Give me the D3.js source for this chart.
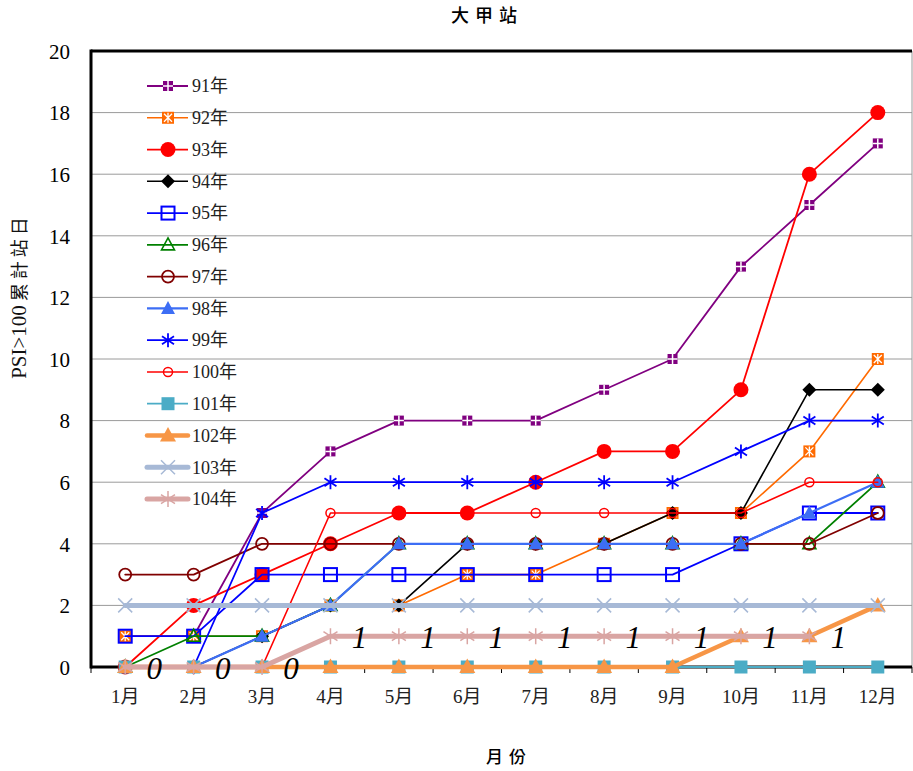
<!DOCTYPE html>
<html><head><meta charset="utf-8">
<script src="https://cdn.jsdelivr.net/npm/d3@7"></script>
<style>
body{margin:0;background:#fff;}
svg text{font-family:"Liberation Serif","Times New Roman","Noto Sans CJK TC",serif;}
</style>
</head><body>
<svg id="c" width="913" height="771"></svg>
<script>
const months = ["1月","2月","3月","4月","5月","6月","7月","8月","9月","10月","11月","12月"];
const yTicks = [0,2,4,6,8,10,12,14,16,18,20];
const seriesNames = ["91年","92年","93年","94年","95年","96年","97年","98年","99年","100年","101年","102年","103年","104年"];
const v91  = [1,1,5,7,8,8,8,9,10,13,15,17];
const v92  = [1,1,1,2,2,3,3,4,5,5,7,10];
const v93  = [0,2,3,4,5,5,6,7,7,9,16,18];
const v94  = [0,0,1,2,2,4,4,4,5,5,9,9];
const v95  = [1,1,3,3,3,3,3,3,3,4,5,5];
const v96  = [0,1,1,2,4,4,4,4,4,4,4,6];
const v97  = [3,3,4,4,4,4,4,4,4,4,4,5];
const v98  = [0,0,1,2,4,4,4,4,4,4,5,6];
const v99  = [0,0,5,6,6,6,6,6,6,7,8,8];
const v100 = [0,0,0,5,5,5,5,5,5,5,6,6];
const v101 = [0,0,0,0,0,0,0,0,0,0,0,0];
const v102 = [0,0,0,0,0,0,0,0,0,1,1,2];
const v103 = [2,2,2,2,2,2,2,2,2,2,2,2];
const v104 = [0,0,0,1,1,1,1,1,1,1,1,null];
const seriesValues = [v91,v92,v93,v94,v95,v96,v97,v98,v99,v100,v101,v102,v103,v104];

const styles = [
 {c:"#800080", w:1.8, m:"sqplus"},
 {c:"#ff6a00", w:1.6, m:"sqx"},
 {c:"#ff0000", w:1.8, m:"circle"},
 {c:"#000000", w:1.6, m:"diamond"},
 {c:"#0000ff", w:1.8, m:"opensq"},
 {c:"#008000", w:1.8, m:"opentri"},
 {c:"#800000", w:1.8, m:"opencircle"},
 {c:"#3d6ef5", w:2.2, m:"tri"},
 {c:"#0000ff", w:1.8, m:"asterisk"},
 {c:"#ff0000", w:1.6, m:"smallcircle"},
 {c:"#4bacc6", w:1.8, m:"sq"},
 {c:"#f79646", w:4.5, m:"bigtri"},
 {c:"#a7b9d6", w:5, m:"x"},
 {c:"#d9a5a3", w:5, m:"asterisk2"}
];

const svg = d3.select("#c");
const L=91, R=912, T=51, B=667;
const x = d3.scaleBand().domain(months).range([L,R]);
const y = d3.scaleLinear().domain([0,20]).range([B,T]);
const cx = m => x(m)+x.bandwidth()/2;

// gridlines
svg.append("g").selectAll("line").data(yTicks.filter(t=>t>0&&t<20)).join("line")
  .attr("x1",L).attr("x2",R).attr("y1",d=>y(d)).attr("y2",d=>y(d))
  .attr("stroke","#9a9a9a").attr("stroke-width",1);
// right border
svg.append("line").attr("x1",R).attr("x2",R).attr("y1",T).attr("y2",B).attr("stroke","#9a9a9a");

// axes
const yAxis = d3.axisLeft(y).tickValues(yTicks).tickSize(0).tickPadding(21).tickFormat(d3.format("d"));
const gy = svg.append("g").attr("transform",`translate(${L},0)`).call(yAxis).attr("font-family",null);
gy.select(".domain").remove();
gy.selectAll("text").attr("font-size",21).attr("fill","#000").attr("dy","0.35em");

const xAxis = d3.axisBottom(x).tickSize(0).tickPadding(23);
const gx = svg.append("g").attr("transform",`translate(0,${B})`).call(xAxis).attr("font-family",null);
gx.select(".domain").remove();
gx.selectAll("text").attr("font-size",19).attr("fill","#222");
// ticks at band boundaries
const bounds = months.map(m=>x(m)).concat([R]);
svg.append("g").selectAll("line").data(bounds).join("line")
  .attr("x1",d=>d).attr("x2",d=>d).attr("y1",B).attr("y2",B+6).attr("stroke","#000").attr("stroke-width",1);

// frame lines (thick)
svg.append("line").attr("x1",L).attr("x2",L).attr("y1",T-1.5).attr("y2",B+1.5).attr("stroke","#000").attr("stroke-width",3);
svg.append("line").attr("x1",L).attr("x2",R).attr("y1",T).attr("y2",T).attr("stroke","#000").attr("stroke-width",3);
svg.append("line").attr("x1",L).attr("x2",R).attr("y1",B).attr("y2",B).attr("stroke","#000").attr("stroke-width",3);

function marker(g, type, c, px, py){
  const s = g.append("g").attr("transform",`translate(${px},${py})`);
  switch(type){
    case "sqplus":
      s.append("rect").attr("x",-5).attr("y",-5).attr("width",10).attr("height",10).attr("fill",c);
      s.append("path").attr("d","M0,-5V5M-5,0H5").attr("stroke","#fff").attr("stroke-width",1.5);
      break;
    case "sqx":
      s.append("rect").attr("x",-6).attr("y",-6).attr("width",12).attr("height",12).attr("fill",c);
      s.append("path").attr("d","M-4,-4L4,4M4,-4L-4,4M0,-5V5").attr("stroke","#fff").attr("stroke-width",1.3);
      break;
    case "circle":
      s.append("circle").attr("r",7.5).attr("fill",c);
      break;
    case "diamond":
      s.append("path").attr("d","M0,-7L7,0L0,7L-7,0Z").attr("fill",c);
      break;
    case "opensq":
      s.append("rect").attr("x",-6.5).attr("y",-6.5).attr("width",13).attr("height",13).attr("fill","none").attr("stroke",c).attr("stroke-width",2);
      break;
    case "opentri":
      s.append("path").attr("d","M0,-7L6.5,5L-6.5,5Z").attr("fill","none").attr("stroke",c).attr("stroke-width",1.6);
      break;
    case "opencircle":
      s.append("circle").attr("r",6).attr("fill","none").attr("stroke",c).attr("stroke-width",1.8);
      break;
    case "smallcircle":
      s.append("circle").attr("r",4.5).attr("fill","none").attr("stroke",c).attr("stroke-width",1.5);
      break;
    case "tri":
      s.append("path").attr("d","M0,-7.5L7,5.5L-7,5.5Z").attr("fill",c);
      break;
    case "bigtri":
      s.append("path").attr("d","M0,-8.5L8,6L-8,6Z").attr("fill",c);
      break;
    case "sq":
      s.append("rect").attr("x",-6.5).attr("y",-6.5).attr("width",13).attr("height",13).attr("fill",c);
      break;
    case "asterisk":
      s.append("path").attr("d","M0,-7V7M-6,-4L6,4M6,-4L-6,4").attr("stroke",c).attr("stroke-width",1.8);
      break;
    case "asterisk2":
      s.append("path").attr("d","M0,-8V8M-7,-4.5L7,4.5M7,-4.5L-7,4.5").attr("stroke",c).attr("stroke-width",1.5);
      break;
    case "x":
      s.append("path").attr("d","M-7,-7L7,7M7,-7L-7,7").attr("stroke",c).attr("stroke-width",1.5);
      break;
  }
}

// series
const line = d3.line().defined(d=>d.v!=null).x(d=>cx(d.m)).y(d=>y(d.v));
seriesValues.forEach((vals,i)=>{
  const st = styles[i];
  const pts = months.map((m,j)=>({m:m,v:vals[j]}));
  const g = svg.append("g");
  g.append("path").attr("d",line(pts)).attr("fill","none").attr("stroke",st.c)
    .attr("stroke-width",st.w).attr("stroke-linejoin","round").attr("stroke-linecap","round");
  pts.filter(d=>d.v!=null).forEach(d=>marker(g, st.m, st.c, cx(d.m), y(d.v)));
});

// data labels for 104年
const lab = svg.append("g");
months.forEach((m,j)=>{
  if(v104[j]==null) return;
  lab.append("text").attr("x",cx(m)+29).attr("y",y(v104[j])+12)
    .attr("text-anchor","middle").attr("font-size",31).attr("font-style","italic")
    .attr("fill","#000").text(v104[j]);
});

// legend
const lg = svg.append("g");
seriesNames.forEach((n,i)=>{
  const ly = 86 + i*31.77;
  const st = styles[i];
  lg.append("line").attr("x1",147).attr("x2",188).attr("y1",ly).attr("y2",ly)
    .attr("stroke",st.c).attr("stroke-width",st.w).attr("stroke-linecap", st.w>3?"round":"butt");
  marker(lg, st.m, st.c, 168, ly);
  lg.append("text").attr("x",192).attr("y",ly).attr("dy","0.35em")
    .attr("font-size",18).attr("fill","#222").text(n);
});

// titles
svg.append("text").attr("x",487).attr("y",22).attr("text-anchor","middle")
  .attr("font-size",18).attr("letter-spacing",6).style("font-family","'Noto Sans CJK TC',sans-serif")
  .attr("font-weight",500).attr("fill","#000").text("大甲站");
svg.append("text").attr("x",509).attr("y",763).attr("text-anchor","middle")
  .attr("font-size",17).attr("letter-spacing",6).style("font-family","'Noto Sans CJK TC',sans-serif")
  .attr("font-weight",500).attr("fill","#000").text("月份");
svg.append("text").attr("transform","translate(26,296) rotate(-90)").attr("text-anchor","middle")
  .attr("fill","#111")
  .call(t=>{
    t.append("tspan").attr("font-size",21).text("PSI>100");
    t.append("tspan").attr("font-size",18).attr("letter-spacing",4).attr("dx",4)
      .style("font-family","'Noto Sans CJK TC',sans-serif").text("累計站日");
  });
</script>
</body></html>
